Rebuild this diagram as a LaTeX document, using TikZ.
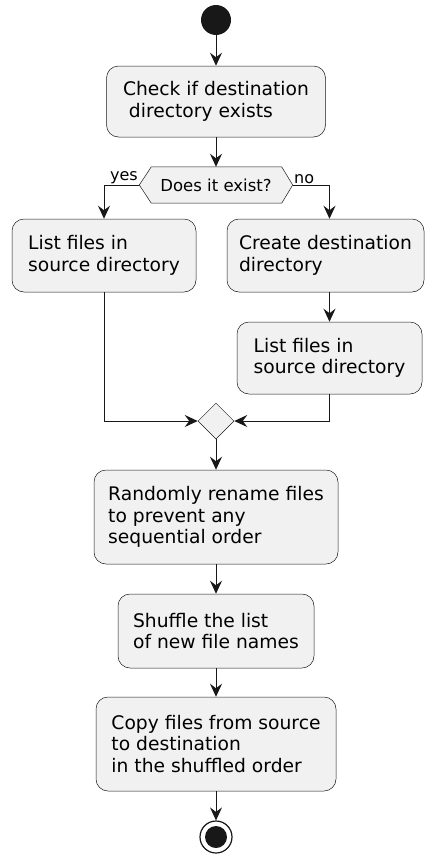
\documentclass[tikz,border=0pt]{standalone}
\usepackage{fontspec}
\setmainfont{DejaVu Sans}
\usetikzlibrary{arrows.meta,shapes.geometric}
\definecolor{actfill}{HTML}{F1F1F1}
\definecolor{actline}{HTML}{181818}
\newcommand{\actfont}{\fontsize{18.7}{21.5}\selectfont}
\newcommand{\decfont}{\fontsize{16.5}{19}\selectfont}
\newcommand{\lblfont}{\fontsize{16}{18}\selectfont}
\begin{document}
\begin{tikzpicture}[x=1pt,y=-1pt,
    act/.style={draw=actline, line width=0.5pt, fill=actfill, rounded corners=12pt,
      align=left, font=\actfont, inner sep=0pt},
    flow/.style={draw=actline, line width=1pt, -{Stealth[length=13pt,width=12pt,inset=4.5pt]}},
    lbl/.style={font=\lblfont, inner sep=1pt}]

        \useasboundingbox (0,0) rectangle (425,854);

        % Start
        \node[circle, fill=actline, minimum size=30pt, inner sep=0pt] (start) at (216,20) {};

        % Check
        \node[act, minimum width=219pt, minimum height=71pt] (check) at (216,101.5)
            {Check if destination\\\ directory exists};

        % Decision
        \node[font=\decfont, minimum width=153pt, minimum height=36pt, inner sep=0pt] (dec) at (216,185) {};
        \draw[actline, line width=0.5pt, fill=actfill]
            (dec.west) -- ([xshift=12pt]dec.north west) -- ([xshift=-11pt]dec.north east)
            -- (dec.east) -- ([xshift=-11pt]dec.south east) -- ([xshift=12pt]dec.south west) -- cycle;
        \node[font=\decfont] at (dec) {Does it exist?};

        % Branches
        \node[act, minimum width=184pt, minimum height=73pt] (listA) at (104,255.5)
            {List files in\\source directory};
        \node[act, minimum width=197pt, minimum height=73pt] (create) at (325.5,255.5)
            {Create destination\\directory};
        \node[act, minimum width=185pt, minimum height=72pt] (listB) at (329.5,358)
            {List files in\\source directory};

        % Merge
        \node[diamond, draw=actline, line width=0.5pt, fill=actfill, minimum width=36pt,
            minimum height=36pt, inner sep=0pt] (merge) at (216,421) {};

        % Rest of the flow
        \node[act, minimum width=244pt, minimum height=94pt] (rename) at (216,517)
            {Randomly rename files\\to prevent any\\sequential order};
        \node[act, minimum width=196pt, minimum height=74pt] (shuffle) at (216,631)
            {Shuffle the list\\of new file names};
        \node[act, minimum width=240pt, minimum height=94pt] (copy) at (216,744)
            {Copy files from source\\to destination\\in the shuffled order};

        % End
        \node[circle, draw=actline, line width=1.2pt, fill=white, minimum size=32pt, inner sep=0pt] (stop) at (216,837) {};
        \fill[actline] (stop) circle (11pt);

        % Connectors
        \draw[flow] (start) -- (check);
        \draw[flow] (check) -- (dec);
        \draw[flow] (dec.west) node[lbl, above left] {yes} -| (listA.north);
        \draw[flow] (dec.east) node[lbl, above right] {no} -| (listB.north |- create.north);
        \draw[flow] (create.south -| listB.north) -- (listB.north);
        \draw[flow] (listA.south) |- (merge.west);
        \draw[flow] (listB.south) |- (merge.east);
        \draw[flow] (merge) -- (rename);
        \draw[flow] (rename) -- (shuffle);
        \draw[flow] (shuffle) -- (copy);
        \draw[flow] (copy) -- (stop);

\end{tikzpicture}
\end{document}
